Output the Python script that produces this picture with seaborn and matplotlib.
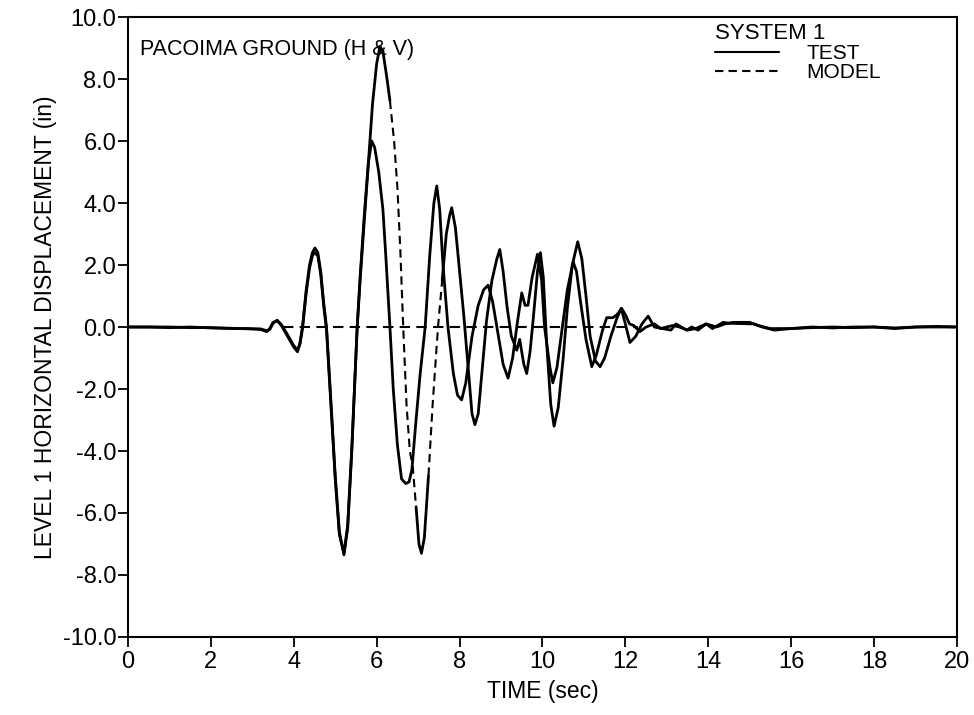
import numpy as np
import pandas as pd
import matplotlib
matplotlib.use("Agg")
import matplotlib.pyplot as plt
import seaborn as sns
from matplotlib.lines import Line2D

# ---- data (time in sec, displacement in inches) ----
test_t = [0.0, 0.5, 1.0, 1.5, 2.0, 2.5, 2.9, 3.2, 3.35, 3.42, 3.5, 3.6, 3.7, 3.85,
          4.0, 4.09, 4.15, 4.21, 4.3, 4.38, 4.45, 4.51, 4.58, 4.65, 4.72, 4.79,
          4.9, 5.0, 5.1, 5.21, 5.3, 5.4, 5.53, 5.6, 5.7, 5.8, 5.88, 5.95, 6.05,
          6.15, 6.22, 6.32, 6.4, 6.5, 6.6, 6.7, 6.78, 6.85, 6.95, 7.05, 7.17,
          7.28, 7.38, 7.45, 7.52, 7.6, 7.72, 7.85, 7.95, 8.05, 8.15, 8.3, 8.45,
          8.58, 8.69, 8.8, 8.9, 9.05, 9.17, 9.28, 9.4, 9.5, 9.58, 9.65, 9.75,
          9.88, 9.98, 10.05, 10.18, 10.25, 10.35, 10.48, 10.6, 10.74, 10.82,
          10.92, 11.05, 11.19, 11.3, 11.45, 11.55, 11.7, 11.8, 11.91, 12.0, 12.1,
          12.2, 12.35, 12.5, 12.7, 12.85, 13.0, 13.15, 13.3, 13.5, 13.7, 13.95,
          14.2, 14.4, 14.6, 15.0, 15.2, 15.5, 16.0, 16.5, 17.0, 17.5, 18.0, 18.5,
          19.0, 19.5, 20.0]
test_v = [0.0, 0.0, -0.02, 0.0, -0.03, -0.05, -0.05, -0.08, -0.15, -0.05, 0.15, 0.2,
          0.05, -0.3, -0.65, -0.8, -0.5, 0.0, 1.2, 2.0, 2.4, 2.55, 2.4, 1.8, 0.8,
          0.0, -2.5, -4.8, -6.6, -7.35, -6.5, -4.0, 0.0, 1.6, 3.6, 5.3, 6.0, 5.8,
          5.0, 3.8, 2.3, 0.0, -2.0, -3.8, -4.9, -5.05, -5.0, -4.6, -3.0, -1.5,
          0.0, 2.3, 4.0, 4.55, 3.8, 2.0, 0.0, -1.5, -2.2, -2.35, -1.8, -0.3, 0.7,
          1.2, 1.35, 0.8, 0.0, -1.2, -1.65, -1.0, 0.2, 1.1, 0.7, 0.7, 1.6, 2.35,
          1.5, 0.0, -1.3, -1.8, -1.3, 0.0, 1.2, 2.1, 1.8, 0.8, -0.4, -1.28, -0.9,
          -0.1, 0.3, 0.3, 0.4, 0.6, 0.4, 0.1, 0.05, -0.15, 0.0, 0.1, -0.05, 0.0,
          0.05, 0.0, -0.1, -0.05, 0.1, 0.0, 0.1, 0.15, 0.15, 0.05, -0.05, -0.05,
          -0.02, 0.0, -0.02, 0.0, -0.03, 0.0, 0.0, 0.0]

model_t = [0.0, 0.5, 1.0, 1.5, 2.0, 2.5, 2.9, 3.2, 3.35, 3.42, 3.5, 3.6, 3.7, 3.85,
           4.0, 4.09, 4.15, 4.21, 4.3, 4.38, 4.45, 4.5, 4.58, 4.65, 4.72, 4.79,
           4.9, 5.0, 5.1, 5.21, 5.3, 5.4, 5.53, 5.6, 5.7, 5.8, 5.9, 6.0, 6.08,
           6.15, 6.25, 6.32, 6.42, 6.5, 6.57, 6.64, 6.72, 6.8, 6.87, 6.95, 7.02,
           7.08, 7.15, 7.25, 7.35, 7.48, 7.58, 7.68, 7.76, 7.81, 7.9, 8.0, 8.1,
           8.2, 8.3, 8.37, 8.45, 8.55, 8.65, 8.78, 8.9, 8.97, 9.05, 9.15, 9.25,
           9.38, 9.45, 9.55, 9.62, 9.7, 9.78, 9.88, 9.95, 10.02, 10.1, 10.2, 10.28,
           10.38, 10.5, 10.6, 10.72, 10.85, 10.95, 11.05, 11.15, 11.28, 11.39,
           11.5, 11.65, 11.8, 11.9, 12.0, 12.11, 12.25, 12.4, 12.55, 12.7, 12.9,
           13.1, 13.22, 13.35, 13.48, 13.6, 13.75, 13.95, 14.1, 14.36, 14.5, 15.1,
           15.3, 15.6, 16.0, 16.5, 17.0, 17.5, 18.0, 18.5, 19.0, 19.5, 20.0]
model_v = [0.0, 0.0, 0.0, -0.02, -0.02, -0.04, -0.06, -0.06, -0.12, -0.08, 0.12,
           0.22, 0.08, -0.25, -0.6, -0.75, -0.55, -0.05, 1.1, 1.9, 2.3, 2.4, 2.3,
           1.7, 0.7, -0.1, -2.6, -4.9, -6.7, -7.3, -6.4, -3.9, 0.0, 1.5, 3.4, 5.3,
           7.2, 8.5, 9.05, 8.9, 8.0, 7.3, 6.0, 4.5, 2.5, 0.0, -2.5, -4.0, -4.5,
           -5.8, -7.0, -7.3, -6.8, -4.8, -2.5, 0.0, 1.5, 3.0, 3.6, 3.85, 3.2, 1.8,
           0.4, -1.2, -2.8, -3.15, -2.8, -1.3, 0.2, 1.5, 2.2, 2.5, 1.8, 0.6, -0.3,
           -0.75, -0.4, -1.2, -1.5, -0.8, 0.3, 1.8, 2.4, 1.6, -0.5, -2.5, -3.2,
           -2.6, -1.0, 0.6, 2.0, 2.75, 2.2, 1.0, -0.3, -1.1, -1.28, -1.0, -0.3,
           0.3, 0.6, 0.1, -0.5, -0.3, 0.1, 0.35, 0.0, -0.05, -0.1, 0.1, 0.0, -0.1,
           0.0, -0.1, 0.1, -0.05, 0.15, 0.12, 0.1, 0.0, -0.1, -0.05, 0.0, -0.03,
           0.0, 0.0, -0.05, 0.0, 0.02, 0.0]

# portions of the model trace that print as dashes in the reference
model_dash_spans = [(6.32, 6.95), (7.25, 7.58)]
# dashed zero reference line span
zero_ref_t = [3.75, 12.3]
zero_ref_v = [0.0, 0.0]

x_ticks = [0, 2, 4, 6, 8, 10, 12, 14, 16, 18, 20]
y_ticks = [-10, -8, -6, -4, -2, 0, 2, 4, 6, 8, 10]

# ---- style ----
sns.set_theme(style="ticks")
plt.rcParams["font.family"] = ["Liberation Sans", "DejaVu Sans"]
plt.rcParams["axes.linewidth"] = 1.5
plt.rcParams["text.color"] = "black"
plt.rcParams["axes.labelcolor"] = "black"
plt.rcParams["xtick.color"] = "black"
plt.rcParams["ytick.color"] = "black"
plt.rcParams["axes.edgecolor"] = "black"

fig = plt.figure(figsize=(9.74, 7.15), dpi=100)
ax = fig.add_axes([0.1314, 0.1091, 0.8511, 0.8671])

test_df = pd.DataFrame({"t": test_t, "v": test_v})
model_df = pd.DataFrame({"t": model_t, "v": model_v})

lw = 2.0
sns.lineplot(data=test_df, x="t", y="v", ax=ax, color="black", lw=lw,
             estimator=None, sort=False)

# split model into solid / dashed pieces
edges = [model_t[0]]
for a, b in model_dash_spans:
    edges += [a, b]
edges.append(model_t[-1])
for i in range(len(edges) - 1):
    a, b = edges[i], edges[i + 1]
    seg = model_df[(model_df.t >= a) & (model_df.t <= b)]
    dashed = (i % 2 == 1)
    sns.lineplot(data=seg, x="t", y="v", ax=ax, color="black",
                 lw=1.5 if dashed else lw, estimator=None, sort=False,
                 linestyle=(0, (4, 2.5)) if dashed else "-")

zdf = pd.DataFrame({"t": zero_ref_t, "v": zero_ref_v})
sns.lineplot(data=zdf, x="t", y="v", ax=ax, color="black", lw=1.5,
             estimator=None, linestyle=(0, (5, 3)))

ax.set_xlim(0, 20)
ax.set_ylim(-10, 10)
ax.set_xticks(x_ticks)
ax.set_xticklabels([str(x) for x in x_ticks])
ax.set_yticks(y_ticks)
ax.set_yticklabels([f"{y:.1f}" for y in y_ticks])
ax.tick_params(direction="out", length=7, width=1.3, labelsize=17,
               colors="black", pad=1.5)
ax.tick_params(axis="x", pad=3)
for s in ax.spines.values():
    s.set_color("black")
    s.set_visible(True)

ax.set_xlabel("TIME (sec)", fontsize=16.5, labelpad=5)
ax.set_ylabel("LEVEL 1 HORIZONTAL DISPLACEMENT (in)", fontsize=16.5, labelpad=4)

ax.text(0.015, 0.965, "PACOIMA GROUND (H & V)", transform=ax.transAxes,
        fontsize=15.5, va="top", ha="left")

handles = [Line2D([], [], color="black", lw=1.5),
           Line2D([], [], color="black", lw=1.5, linestyle=(0, (4, 2.5)))]
leg = ax.legend(handles, ["TEST", "MODEL"], title="SYSTEM 1",
                loc="upper left", bbox_to_anchor=(0.708, 0.99),
                frameon=False, fontsize=15, title_fontsize=16,
                handlelength=3.1, handletextpad=1.3, labelspacing=0.0,
                borderpad=0, borderaxespad=0, alignment="left")

fig.savefig("out.png", dpi=100)
